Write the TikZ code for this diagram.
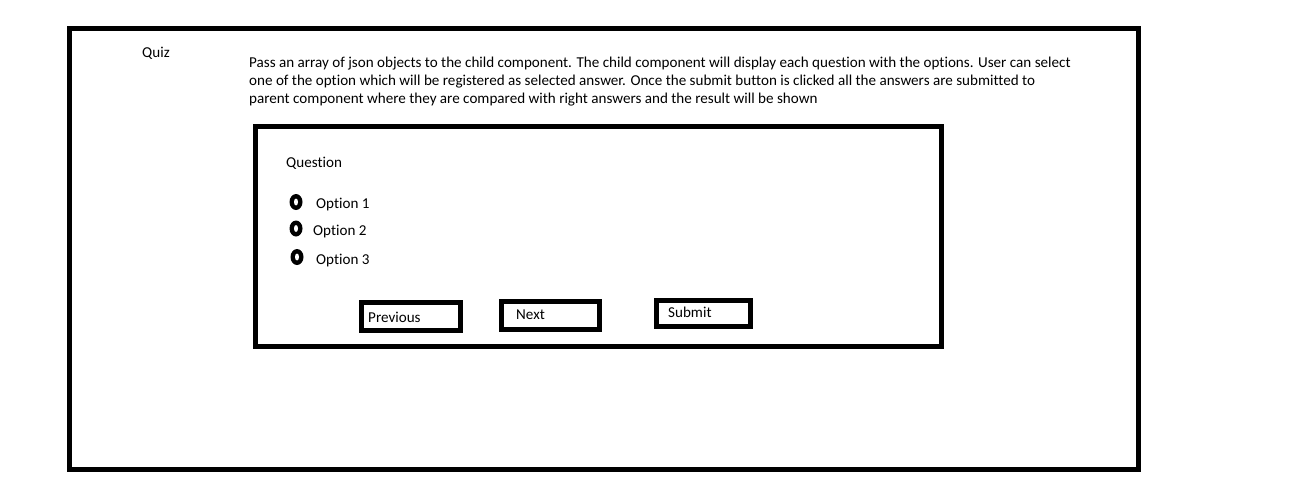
\documentclass[tikz,border=0pt]{standalone}
\usepackage{fontspec}
\setmainfont{Carlito}[Ligatures={NoCommon}]
\begin{document}
\begin{tikzpicture}[x=1pt, y=-1pt,
    frame/.style={line width=5pt},
    txt/.style={anchor=base west, inner sep=0pt, font=\fontsize{15.1}{18}\selectfont}]
    \useasboundingbox (0,0) rectangle (1305,503);

    % Parent component
    \draw[frame] (69.5,28.5) rectangle (1138,469);
    \node[txt] (quiz) at (142,57) {Quiz};
    \node[txt] (desc1) at (249,67) {Pass an array of json objects to the child component. The child component will display each question with the options. User can select};
    \node[txt] (desc2) at (249,85) {one of the option which will be registered as selected answer. Once the submit button is clicked all the answers are submitted to};
    \node[txt] (desc3) at (249,103) {parent component where they are compared with right answers and the result will be shown};

    % Child component
    \draw[frame] (255.5,126.5) rectangle (941.5,346);
    \node[txt] (question) at (286,167) {Question};

    % Options (radio buttons)
    \fill (296,202) ellipse (6.5 and 8);
    \fill[white] (296,202) ellipse (2 and 3.5);
    \node[txt] (opt1) at (316,208) {Option 1};
    \fill (296,228.5) ellipse (6.5 and 8);
    \fill[white] (296,228.5) ellipse (2 and 3.5);
    \node[txt] (opt2) at (313,235) {Option 2};
    \fill (297,257) ellipse (6.5 and 8);
    \fill[white] (297,257) ellipse (2 and 3.5);
    \node[txt] (opt3) at (316,264) {Option 3};

    % Buttons
    \draw[frame] (361.5,302.5) rectangle (460.5,330.5);
    \node[txt] (prev) at (368,322) {Previous};
    \draw[frame] (501.5,301.5) rectangle (599.5,329.5);
    \node[txt] (next) at (516,319) {Next};
    \draw[frame] (656.5,300.5) rectangle (750.5,326.5);
    \node[txt] (submit) at (668,317) {Submit};
\end{tikzpicture}
\end{document}
